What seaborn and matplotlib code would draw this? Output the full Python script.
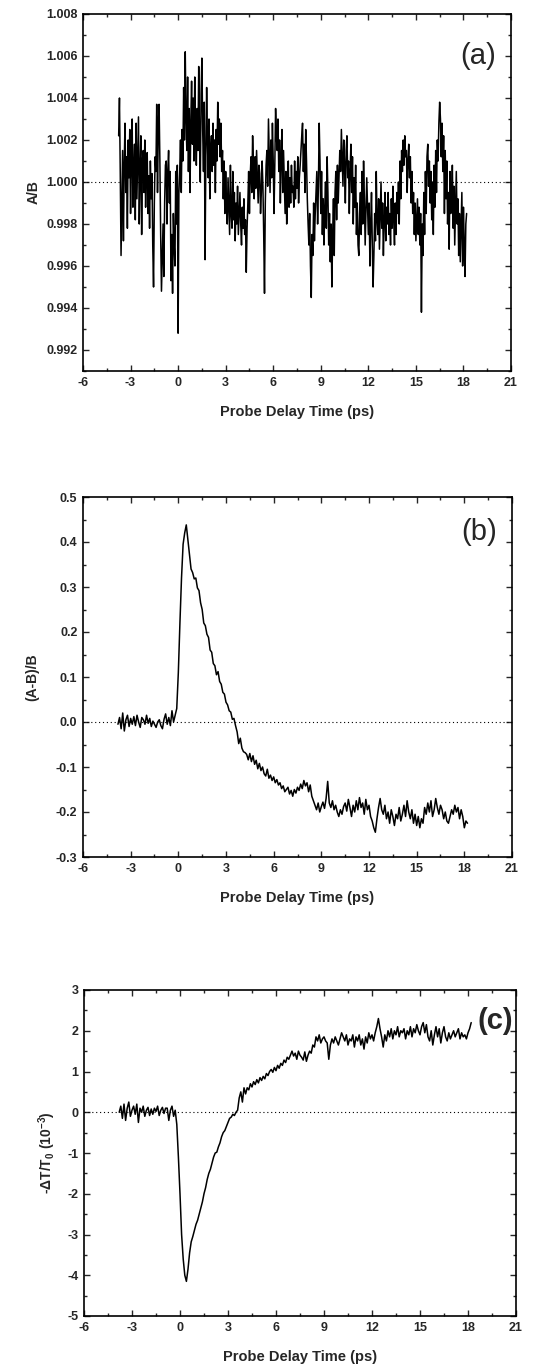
import matplotlib
matplotlib.use("Agg")
import matplotlib.pyplot as plt
from matplotlib.ticker import MultipleLocator, FormatStrFormatter
import numpy as np
import seaborn as sns

# panel (a): A/B ratio, deviation from 1 in units of 1e-4, scan starts at -3.75 ps, step 0.05 ps
a_start, a_step = -3.75, 0.05
a_dev = [
    22, 40, 5, -35, -10, 15, -28, 8, 28, -5, 12, -22, 20, 2, 25, -15, 10, 30, -12, 5,
    18, -18, 28, -8, 12, 31, -20, 6, 22, -25, 10, 15, -5, 20, -12, 8, 14, -15, 3, -22,
    10, -8, 4, -30, -50, -10, 12, 5, 37, -5, 25, 37, 10, -25, -52, -35, -20, -45, -10, 8,
    10, -20, 5, 15, -10, 5, -47, -25, -53, -15, -30, -40, 5, -20, 8, -72, -5, 5, 20, -5,
    25, 10, 45, 20, 62, 30, 15, 50, 5, 35, -5, 28, 48, 18, 40, 10, 50, 25, 8, 35,
    15, 55, 20, 0, 42, 59, 25, 5, 38, -37, 12, 45, 20, 2, 30, -8, 15, 22, 5, 28,
    8, 20, -5, 25, 10, 38, 18, 30, 12, 28, 5, 15, -8, 10, -15, 5, -10, -20, 2, -12,
    -25, 8, -15, -22, 5, -18, -5, -28, -10, -20, -2, -25, -15, -5, -20, -30, -12, -22, -8, -25,
    -18, -43, -22, -10, 5, -15, 3, 12, -5, 22, 8, -8, 12, -3, 15, 2, -10, 8, 4, -15,
    -5, 10, -2, -25, -53, -10, 8, 15, -2, 30, 12, -5, 20, 2, 28, 10, -15, 8, 35, 22,
    15, 30, 5, 20, -10, 12, 25, -5, 15, 0, -15, 5, -20, -8, 10, -12, 2, -10, 8, -5,
    -2, -12, 10, -8, 5, -3, 12, -10, 2, 8, 15, 22, 28, 5, 18, -5, 25, 10, -8, -20,
    -30, -15, -40, -55, -25, -35, -10, -28, -15, -5, 5, -20, -2, 28, 10, -15, 5, -25, -8, -30,
    -12, 0, -22, 12, -5, -30, -15, -38, -20, -50, -25, -8, -35, -5, 5, -18, 8, -10, 2, 15,
    5, 25, 12, -2, 20, 8, -10, 15, 22, 2, 10, -15, 5, 18, -5, 12, -20, 2, -12, 8,
    -25, -10, -30, -35, -15, -5, -25, 5, -20, 10, -8, -30, -15, 2, -12, -25, -10, -40, -20, -5,
    -30, -50, -35, -15, -28, 5, -18, -25, -8, -32, -15, 0, -22, -10, -35, -18, -5, -28, -12, -20,
    -5, -25, -15, -30, -8, -22, -2, -18, -30, -10, -25, -5, -15, 0, -20, 10, -8, 15, 5, 20,
    8, 22, 12, 15, -5, 10, 18, 2, 12, -10, 5, -15, -5, -25, -10, -28, -18, -8, -25, -12,
    -30, -15, -62, -20, -35, -5, -25, 5, -15, 12, 18, -2, 10, -10, 5, -18, 0, -25, 8, -12,
    15, -5, 20, 10, 28, 38, 30, 12, 28, 5, 22, -15, 15, -8, 10, -20, -5, -32, 5, -15,
    -10, 8, -22, -2, -30, -12, 5, -20, -8, -35, -15, -38, -22, -5, -40, -12, -30, -45, -20, -15,
]

# panel (b): (A-B)/B in units of 1e-3, scan from -3.8 ps, step 0.1 ps
b_start, b_step = -3.8, 0.1
b_vals = [
    -5, 10, -15, 20, -20, 5, 15, -10, 8, -5,
    12, -8, 15, 0, -12, 10, 5, -5, 15, -3,
    8, -10, 2, -5, -12, 0, 5, -8, -15, 6,
    18, -5, 10, -8, 25, 0, 15, 30, 110, 220,
    320, 395, 420, 438, 405, 372, 340, 332, 318, 320,
    298, 292, 265, 250, 220, 214, 195, 188, 160, 155,
    130, 125, 105, 112, 90, 84, 66, 62, 44, 38,
    25, 22, 6, 8, -8, -22, -48, -36, -58, -66,
    -68, -72, -84, -70, -88, -75, -94, -85, -104, -92,
    -108, -100, -115, -120, -105, -125, -118, -130, -122, -135,
    -128, -140, -135, -148, -142, -155, -150, -145, -160, -152,
    -165, -150, -158, -145, -152, -138, -148, -130, -142, -135,
    -155, -140, -165, -175, -185, -195, -180, -200, -188, -178,
    -192, -170, -132, -180, -190, -175, -195, -185, -200, -210,
    -195, -205, -188, -180, -198, -172, -190, -210, -185, -200,
    -175, -195, -168, -190, -180, -205, -172, -195, -185, -210,
    -220, -235, -245, -215, -190, -170, -195, -205, -185, -215,
    -200, -225, -195, -210, -230, -205, -215, -190, -220, -205,
    -185, -210, -175, -200, -215, -195, -225, -205, -230, -210,
    -235, -215, -225, -190, -205, -180, -200, -175, -210, -195,
    -170, -190, -205, -185, -195, -215, -200, -220, -225, -210,
    -195, -205, -185, -200, -190, -215, -195, -210, -235, -220,
    -225,
]

# panel (c): -dT/T0 in units of 1e-5 (i.e. 0.01 x 10^-3), scan from -3.8 ps, step 0.1 ps
c_start, c_step = -3.8, 0.1
c_vals = [
    0, 15, -15, 20, -20, 10, 25, -10, 5, 15,
    -5, 20, -25, 10, 0, 15, -10, 5, 12, -8,
    8, -5, 10, 2, 15, -8, 5, 12, -3, 10,
    10, -20, 5, 15, -10, 5, -30, -110, -200, -300,
    -360, -400, -415, -385, -345, -318, -305, -290, -275, -265,
    -250, -235, -220, -200, -185, -165, -150, -140, -125, -110,
    -100, -98, -85, -75, -60, -50, -45, -35, -25, -15,
    -12, -5, -8, 0, 5, 35, 50, 25, 60, 45,
    60, 55, 70, 62, 75, 68, 80, 72, 85, 78,
    88, 82, 95, 90, 100, 105, 98, 110, 102, 115,
    108, 120, 115, 128, 122, 135, 130, 140, 150, 138,
    145, 130, 150, 140, 135, 128, 148, 125, 140, 150,
    145, 165, 160, 185, 175, 190, 170, 180, 185, 175,
    170, 130, 165, 180, 170, 185, 175, 165, 180, 195,
    185, 175, 190, 165, 180, 175, 190, 160, 185, 175,
    190, 165, 180, 155, 185, 170, 195, 180, 190, 175,
    195, 210, 230, 205, 185, 160, 190, 175, 200, 185,
    205, 180, 200, 190, 210, 185, 200, 195, 205, 180,
    200, 190, 210, 185, 205, 195, 215, 200, 190, 210,
    220, 195, 215, 185, 175, 200, 165, 190, 210, 185,
    205, 170, 195, 210, 185, 175, 195, 180, 190, 200,
    185, 195, 205, 180, 195, 185, 190, 180, 195, 205,
    220,
]

a_x = a_start + a_step * np.arange(len(a_dev))
a_y = 1 + np.array(a_dev) * 1e-4
b_x = b_start + b_step * np.arange(len(b_vals))
b_y = np.array(b_vals) * 1e-3
c_x = c_start + c_step * np.arange(len(c_vals))
c_y = np.array(c_vals) * 1e-2

sns.set_style("ticks")
plt.rcParams['font.family'] = ['Liberation Sans', 'DejaVu Sans']
plt.rcParams['font.weight'] = 'bold'
plt.rcParams['axes.labelweight'] = 'bold'
plt.rcParams['axes.unicode_minus'] = False
plt.rcParams['mathtext.fontset'] = 'custom'
plt.rcParams['mathtext.rm'] = 'Liberation Sans:bold'
plt.rcParams['mathtext.bf'] = 'Liberation Sans:bold'
plt.rcParams['mathtext.default'] = 'bf'

fig = plt.figure(figsize=(5.37, 13.64), dpi=100)
H = 1364.0
W = 537.0

def make_ax(left, right, top, bottom):
    return fig.add_axes([left / W, 1 - bottom / H, (right - left) / W, (bottom - top) / H])

panels = [
    dict(ax=make_ax(83, 511, 14, 371), x=a_x, y=a_y, ylim=(0.991, 1.008), ref=1.0,
         major=0.002, minor=0.001, fmt='%.3f', ylabel='A/B', lab='(a)', lab_w='normal',
         lab_pos=(0.923, 0.882), ylab_x=-0.100),
    dict(ax=make_ax(83, 512, 497, 857), x=b_x, y=b_y, ylim=(-0.3, 0.5), ref=0.0,
         major=0.1, minor=0.05, fmt='%.1f', ylabel='(A-B)/B', lab='(b)', lab_w='normal',
         lab_pos=(0.923, 0.903), ylab_x=-0.103),
    dict(ax=make_ax(84, 516, 990, 1316), x=c_x, y=c_y, ylim=(-5, 3), ref=0.0,
         major=1, minor=0.5, fmt='%d', ylabel=r'-$\Delta$T/T$_0$ (10$^{-3}$)', lab='(c)',
         lab_w='bold', lab_pos=(0.952, 0.905), ylab_x=-0.06),
]

for p in panels:
    ax = p['ax']
    sns.lineplot(x=p['x'], y=p['y'], ax=ax, color='black', lw=1.1, errorbar=None)
    ax.axhline(p['ref'], color='black', lw=0.8, ls=(0, (1, 2.5)))
    ax.set_xlim(-6, 21)
    ax.set_ylim(*p['ylim'])
    ax.xaxis.set_major_locator(MultipleLocator(3))
    ax.xaxis.set_minor_locator(MultipleLocator(1.5))
    ax.yaxis.set_major_locator(MultipleLocator(p['major']))
    ax.yaxis.set_minor_locator(MultipleLocator(p['minor']))
    ax.xaxis.set_major_formatter(FormatStrFormatter('%d'))
    ax.yaxis.set_major_formatter(FormatStrFormatter(p['fmt']))
    ax.tick_params(which='both', direction='in', top=True, right=True, width=1.0)
    ax.tick_params(which='major', length=4, labelsize=9, pad=4)
    ax.tick_params(which='minor', length=2)
    for s in ax.spines.values():
        s.set_linewidth(1.2)
        s.set_color('black')
    ax.set_xlabel('Probe Delay Time (ps)', fontsize=10.5, labelpad=12)
    ax.set_ylabel(p['ylabel'], fontsize=10)
    ax.yaxis.set_label_coords(p['ylab_x'], 0.5)
    ax.text(p['lab_pos'][0], p['lab_pos'][1], p['lab'], transform=ax.transAxes,
            fontsize=21, fontweight=p['lab_w'], ha='center', va='center')

fig.savefig('out.png', dpi=100)
